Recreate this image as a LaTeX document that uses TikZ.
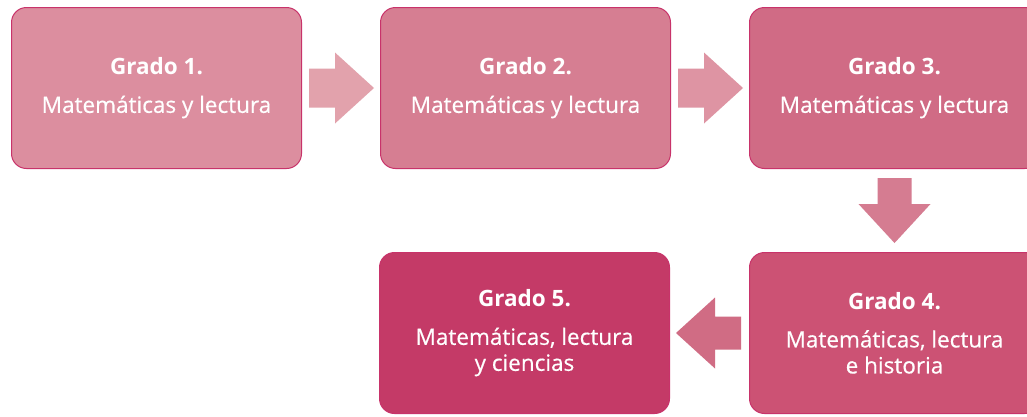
\documentclass[tikz,border=0pt]{standalone}
\usepackage{fontspec}
\setmainfont{Open Sans}[UprightFeatures={FakeBold=0.5}]
\usetikzlibrary{calc}
\definecolor{bd}{HTML}{C8336A}
\definecolor{cA}{HTML}{DC8E9F}
\definecolor{cB}{HTML}{D67E92}
\definecolor{cC}{HTML}{D06B85}
\definecolor{cD}{HTML}{CC5274}
\definecolor{cE}{HTML}{C43A67}
\definecolor{aA}{HTML}{E2A2AC}
\definecolor{aB}{HTML}{DE94A3}
\definecolor{aC}{HTML}{D57C91}
\definecolor{aD}{HTML}{D06C84}
\tikzset{
  gbox/.style={draw=bd, line width=1pt, rounded corners=15pt, minimum width=290pt, minimum height=161pt, anchor=north west, text=white, align=center, font=\fontsize{22.5}{26}\selectfont},
}
\newcommand{\gt}[1]{{\bfseries #1}\\[12pt]}
\begin{document}
\begin{tikzpicture}[x=1pt,y=-1pt]
\clip (0,0) rectangle (1027,416);
\fill[white] (0,0) rectangle (1027,416);
\node[gbox, fill=cA] (b1) at (11,7) {\gt{Grado 1.}Matemáticas y lectura};
\node[gbox, fill=cB] (b2) at (380,7) {\gt{Grado 2.}Matemáticas y lectura};
\node[gbox, fill=cC] (b3) at (749,7) {\gt{Grado 3.}Matemáticas y lectura};
\node[gbox, fill=cD] (b4) at (749,252) {\gt{Grado 4.}Matemáticas, lectura\\e historia};
\node[gbox, fill=cE] (b5) at (379,252) {\gt{Grado 5.}Matemáticas, lectura\\y ciencias};
% block arrows
\fill[aA] ($(b1.east)+(7,-19.5)$) -- ++(26,0) -- ++(0,-16) -- ++(39,35.5) -- ++(-39,35.5) -- ++(0,-16) -- ++(-26,0) -- cycle;
\fill[aB] ($(b2.east)+(7,-19.5)$) -- ++(26,0) -- ++(0,-16) -- ++(39,35.5) -- ++(-39,35.5) -- ++(0,-16) -- ++(-26,0) -- cycle;
\fill[aC] ($(b3.south)+(-17,9)$) -- ++(0,26) -- ++(-19,0) -- ++(36,39) -- ++(36,-39) -- ++(-19,0) -- ++(0,-26) -- cycle;
\fill[aD] ($(b4.west)+(-8,-16.5)$) -- ++(-26,0) -- ++(0,-19) -- ++(-39,35.5) -- ++(39,35.5) -- ++(0,-19) -- ++(26,0) -- cycle;
\end{tikzpicture}
\end{document}
